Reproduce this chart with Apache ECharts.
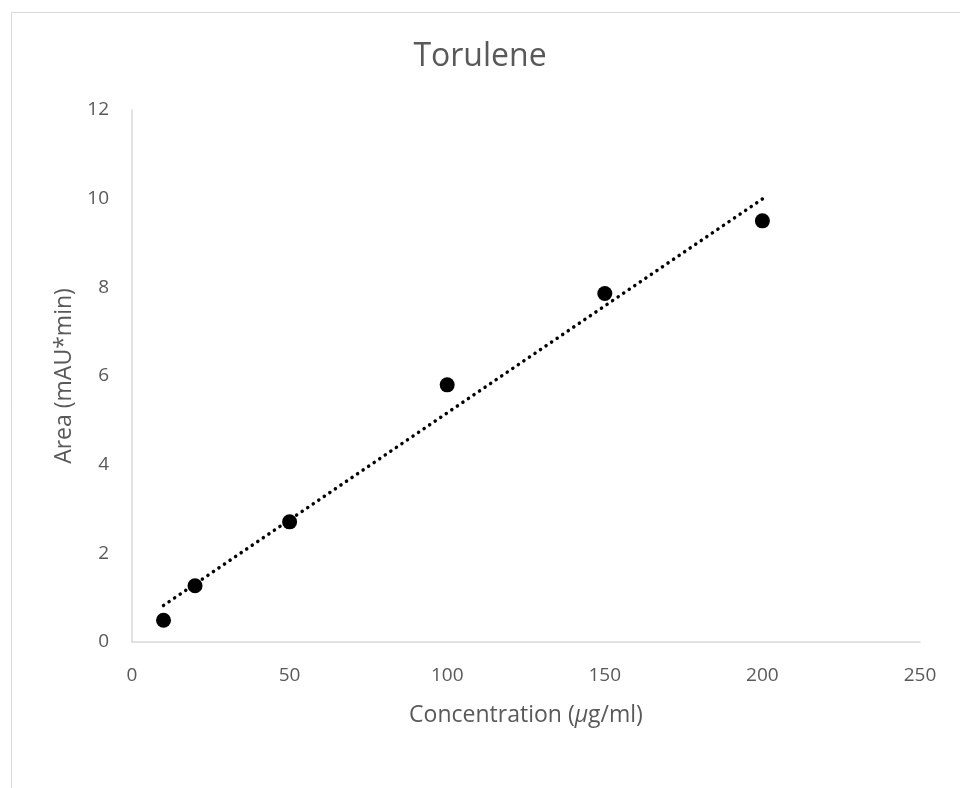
<!DOCTYPE html>
<html>
<head>
<meta charset="utf-8">
<script src="https://cdn.jsdelivr.net/npm/echarts@6/dist/echarts.min.js"></script>
<style>html,body{margin:0;padding:0;background:#fff}#c{width:960px;height:788px}</style>
</head>
<body>
<div id="c"></div>
<script>
var concentration = [10, 20, 50, 100, 150, 200];
var area = [0.49, 1.27, 2.71, 5.80, 7.86, 9.50];
var xTicks = [0, 50, 100, 150, 200, 250];
var yTicks = [0, 2, 4, 6, 8, 10, 12];

// least-squares linear trendline through the data
var n = concentration.length, sx = 0, sy = 0, sxx = 0, sxy = 0;
for (var i = 0; i < n; i++) { sx += concentration[i]; sy += area[i]; sxx += concentration[i]*concentration[i]; sxy += concentration[i]*area[i]; }
var slope = (n*sxy - sx*sy) / (n*sxx - sx*sx);
var intercept = (sy - slope*sx) / n;
var xMinD = Math.min.apply(null, concentration), xMaxD = Math.max.apply(null, concentration);
var trend = [[xMinD, intercept + slope*xMinD], [xMaxD, intercept + slope*xMaxD]];

var font = 'Open Sans';
var txt = '#595959';
var chart = echarts.init(document.getElementById('c'), null, {renderer: 'canvas'});
chart.setOption({
  animation: false,
  backgroundColor: '#fff',
  graphic: [{type: 'rect', left: 9, top: 10, shape: {width: 1000, height: 900}, style: {fill: 'none', stroke: '#d9d9d9', lineWidth: 1}, silent: true, z: -1}],
  title: {text: 'Torulene', left: 'center', top: 36, textStyle: {fontFamily: font, fontSize: 32, fontWeight: 'normal', color: txt}},
  grid: {left: 132, right: 40, top: 110, bottom: 146},
  xAxis: {
    type: 'value', min: xTicks[0], max: xTicks[xTicks.length-1], interval: 50,
    name: 'Concentration ({i|μ}g/ml)', nameLocation: 'middle', nameGap: 62,
    nameTextStyle: {fontFamily: font, fontSize: 23, color: txt, rich: {i: {fontFamily: font, fontSize: 23, color: txt, fontStyle: 'italic'}}},
    axisLine: {show: true, lineStyle: {color: '#d9d9d9', width: 1.5}},
    axisTick: {show: false}, splitLine: {show: false},
    axisLabel: {fontFamily: font, fontSize: 19, color: txt, margin: 24}
  },
  yAxis: {
    type: 'value', min: yTicks[0], max: yTicks[yTicks.length-1], interval: 2,
    name: 'Area (mAU*min)', nameLocation: 'middle', nameGap: 54, nameRotate: 90,
    nameTextStyle: {fontFamily: font, fontSize: 23, color: txt},
    axisLine: {show: true, lineStyle: {color: '#d9d9d9', width: 1.5}},
    axisTick: {show: false}, splitLine: {show: false},
    axisLabel: {fontFamily: font, fontSize: 19, color: txt, margin: 23}
  },
  series: [
    {type: 'line', data: trend, symbol: 'none', silent: true, z: 1,
     lineStyle: {color: '#000', width: 3.5, type: [0.1, 6.6], cap: 'round'}},
    {type: 'scatter', data: concentration.map(function(x, i){ return [x, area[i]]; }),
     symbol: 'circle', symbolSize: 15, itemStyle: {color: '#000', opacity: 1}, z: 2}
  ]
});
</script>
</body>
</html>
